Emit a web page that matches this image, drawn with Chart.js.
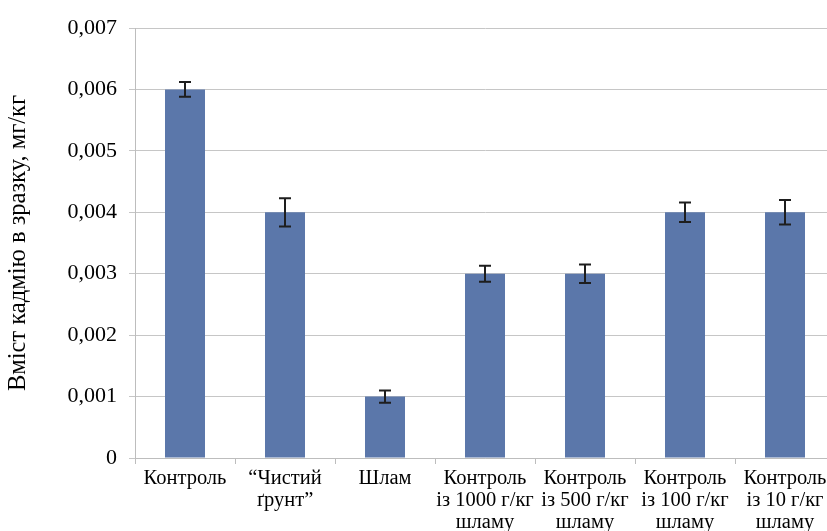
<!DOCTYPE html>
<html>
<head>
<meta charset="utf-8">
<script src="https://cdn.jsdelivr.net/npm/chart.js@4/dist/chart.umd.min.js"></script>
<style>
html,body{margin:0;padding:0;background:#fff;overflow:hidden;width:827px;height:531px;}
#wrap{width:850px;height:531px;position:relative;}
</style>
</head>
<body>
<div id="wrap"><canvas id="c"></canvas></div>
<script>
const categories = [
  ["Контроль"],
  ["\u201CЧистий", "ґрунт\u201D"],
  ["Шлам"],
  ["Контроль", "із 1000 г/кг", "шламу"],
  ["Контроль", "із 500 г/кг", "шламу"],
  ["Контроль", "із 100 г/кг", "шламу"],
  ["Контроль", "із 10 г/кг", "шламу"]
];
const values = [0.006, 0.004, 0.001, 0.003, 0.003, 0.004, 0.004];
const errors = [0.00012, 0.00023, 0.0001, 0.00013, 0.00015, 0.00016, 0.0002];
const yTicks = [0, 0.001, 0.002, 0.003, 0.004, 0.005, 0.006, 0.007];
const yTitle = "Вміст кадмію в зразку, мг/кг";

const errorBars = {
  id: 'errorBars',
  afterDatasetsDraw(chart) {
    const ctx = chart.ctx;
    const meta = chart.getDatasetMeta(0);
    const y = chart.scales.y;
    ctx.save();
    ctx.strokeStyle = '#1e1e1e';
    ctx.lineWidth = 2;
    meta.data.forEach((bar, i) => {
      const x = bar.x;
      const yt = y.getPixelForValue(values[i] + errors[i]);
      const yb = y.getPixelForValue(values[i] - errors[i]);
      ctx.beginPath();
      ctx.moveTo(x, yt); ctx.lineTo(x, yb);
      ctx.moveTo(x - 6, yt); ctx.lineTo(x + 6, yt);
      ctx.moveTo(x - 6, yb); ctx.lineTo(x + 6, yb);
      ctx.stroke();
    });
    ctx.restore();
  }
};

new Chart(document.getElementById('c'), {
  type: 'bar',
  data: {
    labels: categories,
    datasets: [{
      data: values,
      backgroundColor: '#5b77aa',
      borderWidth: 0,
      barPercentage: 0.4,
      categoryPercentage: 1.0
    }]
  },
  options: {
    responsive: true,
    maintainAspectRatio: false,
    animation: false,
    layout: { padding: { top: 28, right: 15, left: 0, bottom: 0 } },
    plugins: { legend: { display: false }, tooltip: { enabled: false } },
    scales: {
      x: {
        offset: true,
        grid: { display: true, offset: true, drawOnChartArea: false, drawTicks: true, tickLength: 6, color: '#bdbdbd' },
        border: { display: true, color: '#bdbdbd', width: 1 },
        ticks: {
          color: '#000',
          font: { family: 'Liberation Serif', size: 20.5, lineHeight: 1.07 },
          maxRotation: 0, autoSkip: false, padding: 4
        },
        afterFit(s) { s.height = 73; }
      },
      y: {
        min: 0, max: 0.007,
        afterBuildTicks(s) { s.ticks = yTicks.map(v => ({ value: v })); },
        grid: { color: '#c6c6c6', lineWidth: 1, drawTicks: true, tickLength: 6 },
        border: { display: true, color: '#bdbdbd', width: 1 },
        ticks: {
          color: '#000',
          font: { family: 'Liberation Serif', size: 22 },
          padding: 12,
          callback: v => v === 0 ? '0' : v.toFixed(3).replace('.', ',')
        },
        title: {
          display: true, text: yTitle, color: '#000',
          font: { family: 'Liberation Serif', size: 24.5, lineHeight: 1.1 },
          padding: { top: 5, bottom: 0 }
        },
        afterFit(s) { s.width = 135; }
      }
    }
  },
  plugins: [errorBars]
});
</script>
</body>
</html>
